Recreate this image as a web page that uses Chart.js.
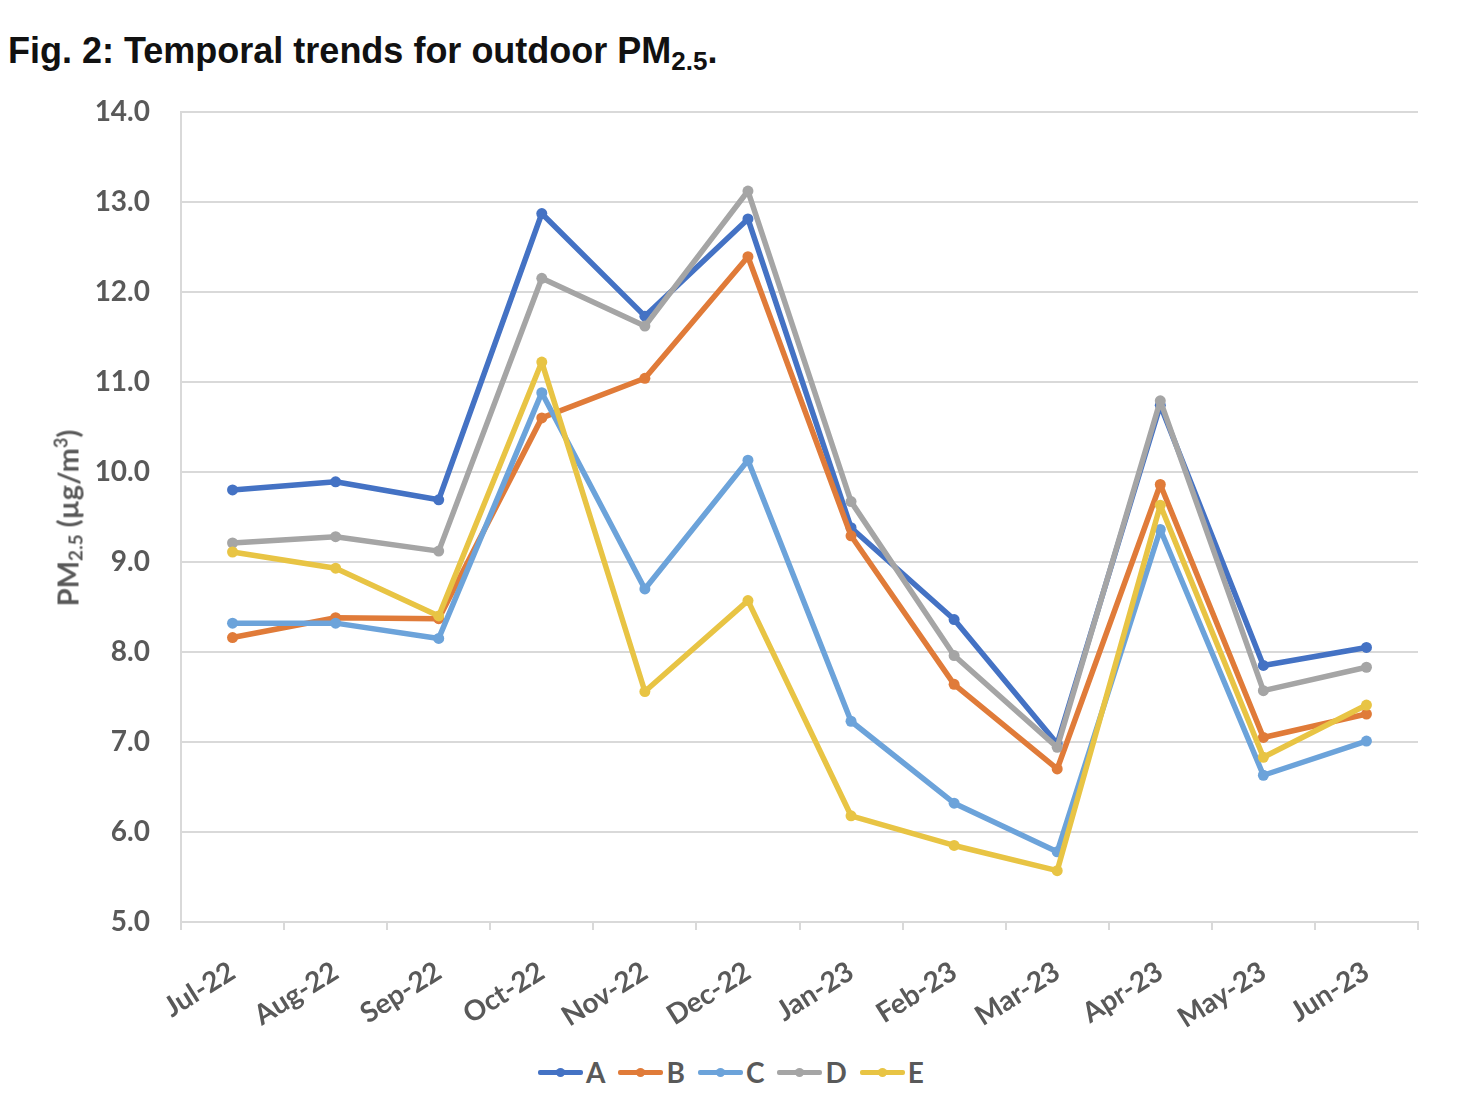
<!DOCTYPE html>
<html>
<head>
<meta charset="utf-8">
<script src="https://cdn.jsdelivr.net/npm/chart.js@4.4.0/dist/chart.umd.min.js"></script>
<style>
  html, body { margin: 0; padding: 0; background: #fff; }
  body { width: 1464px; height: 1104px; position: relative; overflow: hidden; }
  .fig-title {
    position: absolute; left: 8px; top: 33px;
    font-family: "Liberation Sans", Arial, sans-serif; font-weight: bold;
    font-size: 36px; line-height: 36px; color: #111; white-space: nowrap;
  }
  .fig-title sub { font-size: 26px; vertical-align: -7px; line-height: 0; }
  .chart-wrap { position: absolute; left: 0; top: 64px; width: 1464px; height: 986px; }
  .y-title {
    position: absolute; left: 67px; top: 518px;
    transform: translate(-50%, -50%) rotate(-90deg);
    font-family: Lato, sans-serif; font-weight: bold; font-size: 29px;
    color: #595959; white-space: nowrap;
  }
  .y-title sub { font-size: 19px; vertical-align: -4px; line-height: 0; }
  .y-title sup { font-size: 18px; vertical-align: 11px; line-height: 0; }
  .legend {
    position: absolute; left: 538px; top: 1054px; height: 36px;
    display: flex; align-items: center;
    font-family: Lato, sans-serif; font-weight: bold; font-size: 28px; color: #595959;
  }
  .legend-item { display: flex; align-items: center; margin-right: 13px; }
  .legend-line { position: relative; width: 45px; height: 5px; border-radius: 2px; margin-right: 3px; }
  .legend-dot { position: absolute; left: 18px; top: -2px; width: 9px; height: 9px; border-radius: 50%; }
</style>
</head>
<body>
<div class="fig-title">Fig. 2: Temporal trends for outdoor PM<sub>2.5</sub>.</div>
<div class="chart-wrap"><canvas id="pmChart"></canvas></div>
<div class="y-title">PM<sub>2.5</sub> (µg/m<sup>3</sup>)</div>
<div class="legend" id="legend"></div>
<script>
const months = ['Jul-22', 'Aug-22', 'Sep-22', 'Oct-22', 'Nov-22', 'Dec-22', 'Jan-23', 'Feb-23', 'Mar-23', 'Apr-23', 'May-23', 'Jun-23'];
const seriesNames = ['A', 'B', 'C', 'D', 'E'];
const seriesA = [9.80, 9.89, 9.69, 12.87, 11.73, 12.81, 9.38, 8.36, 6.98, 10.74, 7.85, 8.05];
const seriesB = [8.16, 8.38, 8.37, 10.60, 11.04, 12.39, 9.29, 7.64, 6.70, 9.86, 7.05, 7.31];
const seriesC = [8.32, 8.32, 8.15, 10.88, 8.70, 10.13, 7.23, 6.32, 5.78, 9.36, 6.63, 7.01];
const seriesD = [9.21, 9.28, 9.12, 12.15, 11.62, 13.12, 9.67, 7.96, 6.94, 10.79, 7.57, 7.83];
const seriesE = [9.11, 8.93, 8.40, 11.22, 7.56, 8.57, 6.18, 5.85, 5.57, 9.63, 6.83, 7.41];
const yTicks = [5, 6, 7, 8, 9, 10, 11, 12, 13, 14];

const colors = ['#4472C4', '#E07B39', '#6CA3DA', '#A5A5A5', '#E8C444'];
const allSeries = [seriesA, seriesB, seriesC, seriesD, seriesE];

const datasets = allSeries.map((vals, i) => ({
    label: seriesNames[i],
    data: vals,
    borderColor: colors[i],
    backgroundColor: colors[i],
    borderWidth: 5.5,
    pointRadius: 5.5,
    pointBorderWidth: 0,
    pointBackgroundColor: colors[i],
    borderJoinStyle: 'round',
    borderCapStyle: 'round',
    tension: 0,
    // later series on top, like the original
    order: allSeries.length - i
}));

const gridColor = '#d9d9d9';

new Chart(document.getElementById('pmChart'), {
    type: 'line',
    data: { labels: months, datasets: datasets },
    options: {
        responsive: true,
        maintainAspectRatio: false,
        animation: false,
        layout: { padding: { left: 0, right: 46, top: 20, bottom: 0 } },
        plugins: {
            legend: { display: false },
            tooltip: { enabled: false }
        },
        scales: {
            x: {
                offset: true,
                grid: {
                    offset: true,
                    drawOnChartArea: false,
                    drawTicks: true,
                    tickLength: 8,
                    color: gridColor,
                    lineWidth: 2
                },
                border: { display: true, color: gridColor, width: 2 },
                ticks: {
                    autoSkip: false,
                    minRotation: 32,
                    maxRotation: 32,
                    padding: 25,
                    color: '#595959',
                    font: { family: 'Lato', weight: 'bold', size: 28 }
                },
                afterFit: function(scale) { scale.height = 128; }
            },
            y: {
                min: 5,
                max: 14,
                afterBuildTicks: function(scale) {
                    scale.ticks = yTicks.map(v => ({ value: v }));
                },
                grid: { color: gridColor, lineWidth: 2, drawTicks: false },
                border: { display: true, color: gridColor, width: 2 },
                ticks: {
                    padding: 31,
                    color: '#595959',
                    font: { family: 'Lato', weight: 'bold', size: 28 },
                    callback: function(value) { return Number(value).toFixed(1); }
                },
                afterFit: function(scale) { scale.width = 181; }
            }
        }
    }
});

const legend = document.getElementById('legend');
seriesNames.forEach((name, i) => {
    const item = document.createElement('div');
    item.className = 'legend-item';
    item.innerHTML = '<span class="legend-line" style="background:' + colors[i] + '">' +
        '<span class="legend-dot" style="background:' + colors[i] + '"></span></span>' +
        '<span>' + name + '</span>';
    legend.appendChild(item);
});
</script>
</body>
</html>
